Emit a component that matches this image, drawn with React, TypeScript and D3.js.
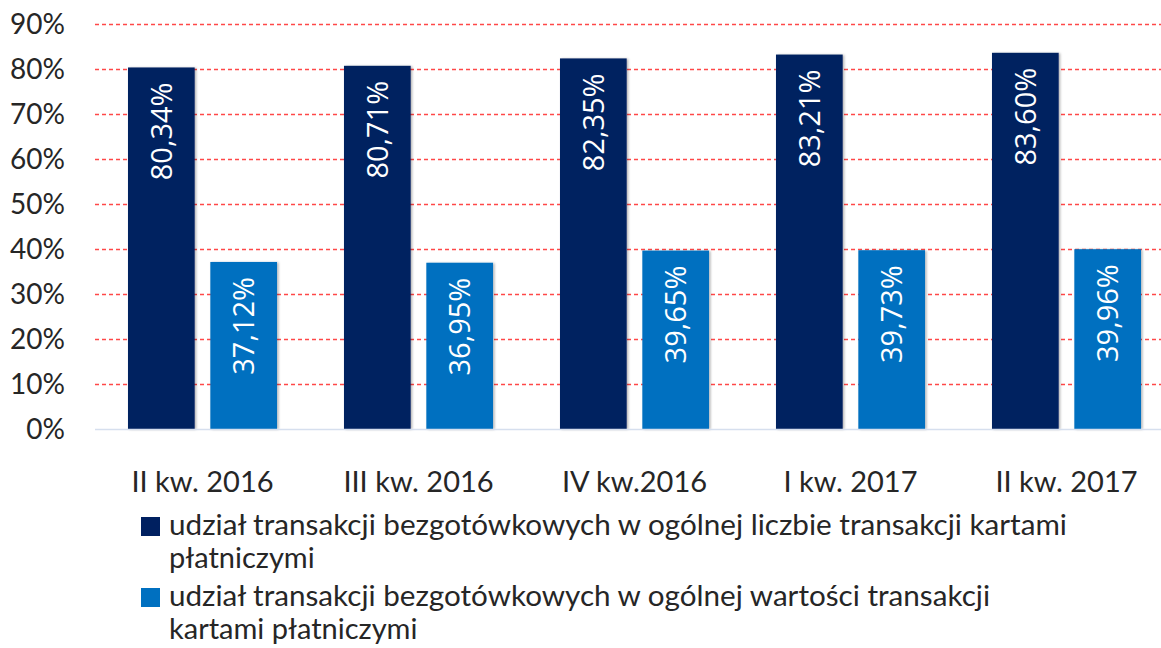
import React from "react";
import * as d3 from "d3";

const categories = ["II kw. 2016", "III kw. 2016", "IV kw.2016", "I kw. 2017", "II kw. 2017"];
const seriesNames = [
  "udział transakcji bezgotówkowych w ogólnej liczbie transakcji kartami płatniczymi",
  "udział transakcji bezgotówkowych w ogólnej wartości transakcji kartami płatniczymi",
];
const countShare = [80.34, 80.71, 82.35, 83.21, 83.6];
const valueShare = [37.12, 36.95, 39.65, 39.73, 39.96];
const valueLabelsCount = ["80,34%", "80,71%", "82,35%", "83,21%", "83,60%"];
const valueLabelsValue = ["37,12%", "36,95%", "39,65%", "39,73%", "39,96%"];
const yTicks = [0, 10, 20, 30, 40, 50, 60, 70, 80, 90];
const legendLines = [
  ["udział transakcji bezgotówkowych w ogólnej liczbie transakcji kartami", "płatniczymi"],
  ["udział transakcji bezgotówkowych w ogólnej wartości transakcji", "kartami płatniczymi"],
];

const W = 1161;
const H = 648;
const colors = ["#002060", "#0070C0"];
const CAL = "Lato, 'Liberation Sans', sans-serif";
const VAL = "'Open Sans', 'Noto Sans', sans-serif";

export default function App() {
  const y = d3.scaleLinear().domain([0, 90]).range([429, 24]);
  const x0 = d3
    .scaleBand<string>()
    .domain(categories)
    .range([94.5, 1174.5])
    .paddingInner(0.31)
    .paddingOuter(0.155);
  const x1 = d3
    .scaleBand<string>()
    .domain(["count", "value"])
    .range([0, x0.bandwidth()])
    .paddingInner(0.19);

  const series = [
    { key: "count", values: countShare, labels: valueLabelsCount, color: colors[0] },
    { key: "value", values: valueShare, labels: valueLabelsValue, color: colors[1] },
  ];
  const legendWidths = [898, 821];

  return (
    <svg
      width={W}
      height={H}
      viewBox={`0 0 ${W} ${H}`}
      style={{ position: "absolute", left: 0, top: 0, background: "#fff" }}
    >
      <defs>
        <filter id="sh" x="-10%" y="-10%" width="130%" height="130%">
          <feDropShadow dx="1.5" dy="0.5" stdDeviation="1.2" floodColor="#000" floodOpacity="0.3" />
        </filter>
      </defs>
      <rect width={W} height={H} fill="#fff" />
      {/* gridlines */}
      {yTicks
        .filter((t) => t > 0)
        .map((t) => (
          <line
            key={t}
            x1={95}
            x2={1175}
            y1={y(t) + 0.5}
            y2={y(t) + 0.5}
            stroke="#FF3535"
            strokeWidth={1.4}
            strokeDasharray="4,3"
            opacity={0.9}
          />
        ))}
      {/* y tick labels */}
      {yTicks.map((t) => (
        <text
          key={t}
          x={65}
          y={y(t)}
          dy="0.36em"
          textAnchor="end"
          fontFamily={CAL}
          fontSize={28}
          fill="#262626"
        >
          {t}%
        </text>
      ))}
      {/* bars */}
      {series.map((s) =>
        categories.map((c, i) => {
          const bx = (x0(c) ?? 0) + (x1(s.key) ?? 0);
          const by = y(s.values[i]);
          return (
            <rect
              key={s.key + c}
              x={bx}
              y={by}
              width={x1.bandwidth()}
              height={y(0) - by}
              fill={s.color}
              filter="url(#sh)"
            />
          );
        })
      )}
      {/* baseline */}
      <line x1={95} x2={1175} y1={y(0) + 0.5} y2={y(0) + 0.5} stroke="#D6DFEE" strokeWidth={1.5} />
      {/* value labels */}
      {series.map((s) =>
        categories.map((c, i) => {
          const cx = (x0(c) ?? 0) + (x1(s.key) ?? 0) + x1.bandwidth() / 2;
          const ty = y(s.values[i]) + 15;
          return (
            <text
              key={"l" + s.key + c}
              transform={`translate(${cx},${ty}) rotate(-90)`}
              dy="0.36em"
              textAnchor="end"
              fontFamily={VAL}
              fontSize={29}
              fill="#fff"
            >
              {s.labels[i]}
            </text>
          );
        })
      )}
      {/* category labels */}
      {categories.map((c) => (
        <text
          key={"c" + c}
          x={(x0(c) ?? 0) + x0.bandwidth() / 2}
          y={492}
          textAnchor="middle"
          fontFamily={CAL}
          fontSize={29}
          fill="#262626"
        >
          {c}
        </text>
      ))}
      {/* legend */}
      {legendLines.map((lines, i) => {
        const top = i === 0 ? 517 : 588;
        return (
          <g key={"lg" + i}>
            <title>{seriesNames[i]}</title>
            <rect x={141} y={top} width={19} height={19} fill={colors[i]} />
            <text
              x={169}
              y={top + 18}
              fontFamily={CAL}
              fontSize={29}
              fill="#262626"
              textLength={legendWidths[i]}
              lengthAdjust="spacingAndGlyphs"
            >
              {lines[0]}
            </text>
            <text x={169} y={top + 51} fontFamily={CAL} fontSize={29} fill="#262626">
              {lines[1]}
            </text>
          </g>
        );
      })}
    </svg>
  );
}
